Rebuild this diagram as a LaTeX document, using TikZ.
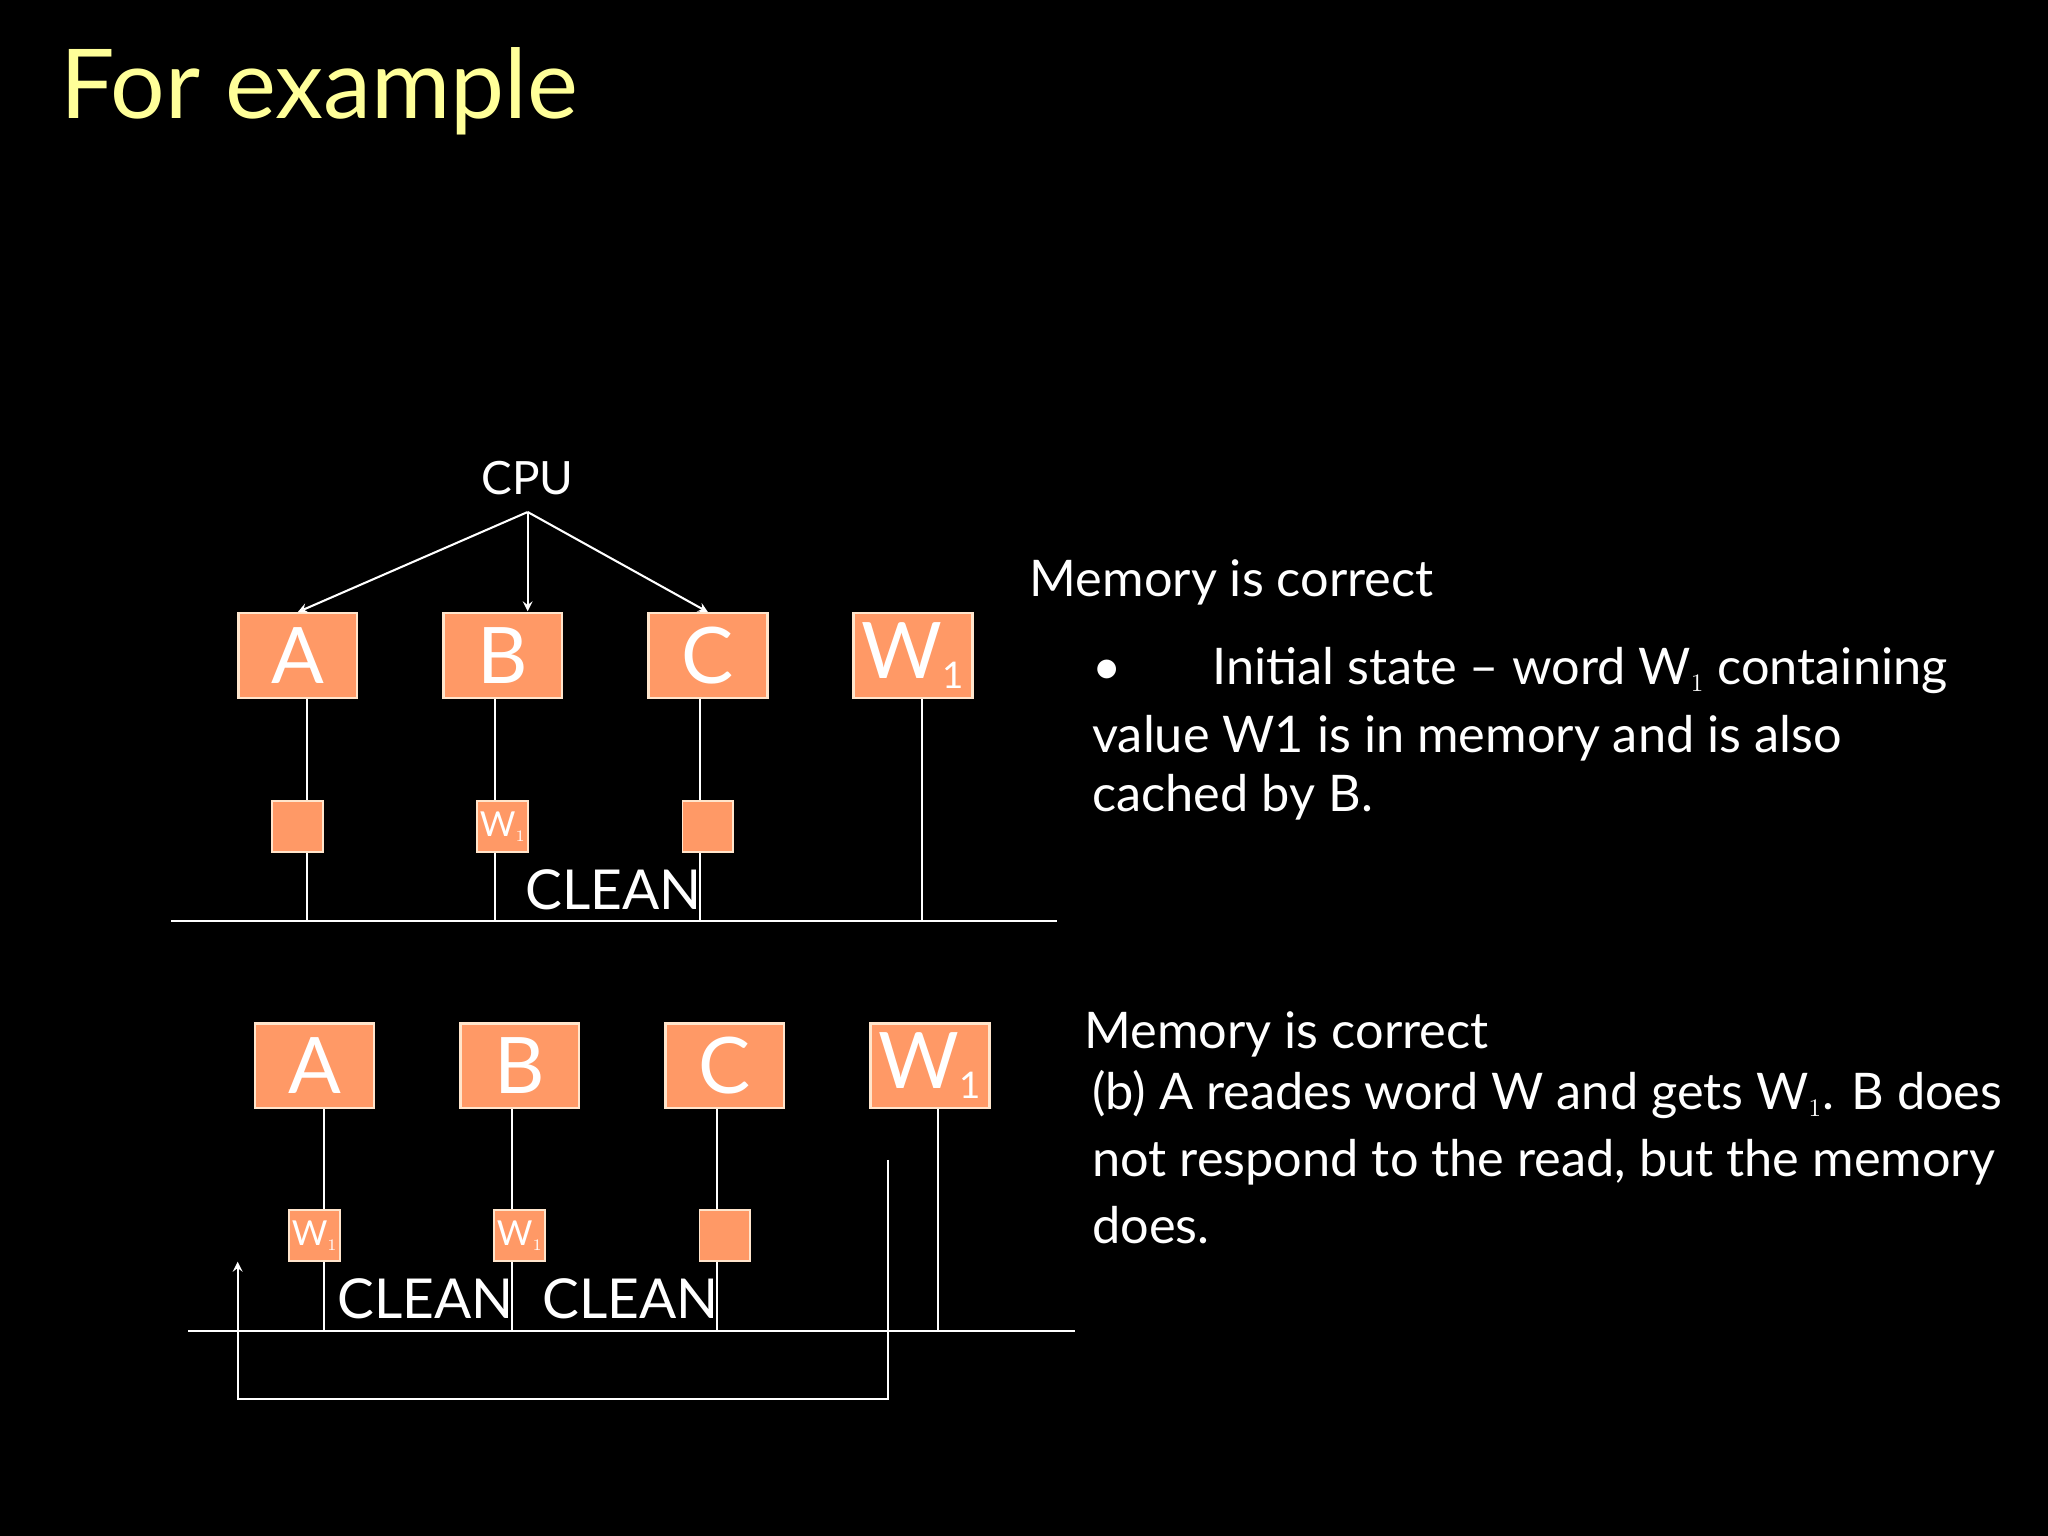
\documentclass[tikz,border=0pt]{standalone}
\usepackage{fontspec}
\setmainfont{Lato}
\begin{document}
\begin{tikzpicture}[x=0.02cm,y=-0.02cm,
  box/.style={draw=white!80!orange,fill=boxc,line width=1pt,minimum width=91*0.02cm,minimum height=65*0.02cm,inner sep=0pt,font=\fontsize{34}{34}\selectfont,text=white},
  sbox/.style={draw=white!80!orange,fill=boxc,line width=0.8pt,minimum width=39*0.02cm,minimum height=39*0.02cm,inner sep=0pt,font=\fontsize{15}{15}\selectfont,text=white},
  wire/.style={white,line width=0.9pt},
  txt/.style={anchor=west,inner sep=0pt,text=white,font=\fontsize{22}{22}\selectfont},
  lbl/.style={inner sep=0pt,text=white,font=\fontsize{20}{20}\selectfont}]
\definecolor{boxc}{HTML}{FF9966}
\definecolor{titc}{HTML}{FFFF99}
\fill[black] (0,0) rectangle (1568,1176);
\useasboundingbox (0,0) rectangle (1568,1176);
\clip (0,0) rectangle (1568,1176);
\node[anchor=west,inner sep=0pt,text=titc,font=\fontsize{42}{42}\selectfont] (title) at (46,70) {For example};

% top diagram
\node[lbl] (cpu) at (404,366) {CPU};
\coordinate (cpub) at (404,392);
\node[box] (a1) at (228,502) {A};
\node[box] (b1) at (385,502) {B};
\node[box] (c1) at (542,502) {C};
\node[box] (w1) at (699,502) {W\raisebox{-0.25ex}{\fontsize{16}{16}\selectfont 1}};
\draw[wire,-stealth] (cpub) -- (a1.north);
\draw[wire,-stealth] (cpub) -- (404,468);
\draw[wire,-stealth] (cpub) -- (c1.north);
\coordinate (busl1) at (131,705);
\coordinate (busr1) at (809,705);
\draw[wire] (busl1) -- (busr1);
\draw[wire] (235,535) -- (235,705);
\draw[wire] (379,535) -- (379,705);
\draw[wire] (536,535) -- (536,705);
\draw[wire] (706,535) -- (706,705);
\node[sbox] (sa1) at (228,633) {};
\node[sbox] (sb1) at (385,633) {W$_{\scriptscriptstyle 1}$};
\node[sbox] (sc1) at (542,633) {};
\node[lbl,font=\fontsize{24}{24}\selectfont] (cl1) at (470,681) {CLEAN};

% bottom diagram
\node[box] (a2) at (241,816) {A};
\node[box] (b2) at (398,816) {B};
\node[box] (c2) at (555,816) {C};
\node[box] (w2) at (712,816) {W\raisebox{-0.25ex}{\fontsize{16}{16}\selectfont 1}};
\draw[wire] (144,1019) -- (823,1019);
\draw[wire] (248,849) -- (248,1019);
\draw[wire] (392,849) -- (392,1019);
\draw[wire] (549,849) -- (549,1019);
\draw[wire] (718,849) -- (718,1019);
\node[sbox] (sa2) at (241,946) {W$_{\scriptscriptstyle 1}$};
\node[sbox] (sb2) at (398,946) {W$_{\scriptscriptstyle 1}$};
\node[sbox] (sc2) at (555,946) {};
\node[lbl,font=\fontsize{24}{24}\selectfont] (cl2) at (326,994) {CLEAN};
\node[lbl,font=\fontsize{24}{24}\selectfont] (cl3) at (483,994) {CLEAN};
\coordinate (rs) at (680,888);
\coordinate (re) at (182,966);
\draw[wire,-stealth] (rs) -- (680,1071) -- (182,1071) -- (re);

% text
\node[txt] (t1) at (788,446) {Memory is correct};
\node[txt] (t2) at (836,513) {\textbullet\hspace{1.8em}Initial state -- word W$_{\scriptscriptstyle 1}$ containing};
\node[txt] (t3) at (836,565) {value W1 is in memory and is also};
\node[txt] (t4) at (836,610) {cached by B.};
\node[txt] (t5) at (830,792) {Memory is correct};
\node[txt] (t6) at (836,838) {(b) A reades word W and gets W$_{\scriptscriptstyle 1}$. B does};
\node[txt] (t7) at (836,890) {not respond to the read, but the memory};
\node[txt] (t8) at (836,938) {does.};
\end{tikzpicture}
\end{document}
